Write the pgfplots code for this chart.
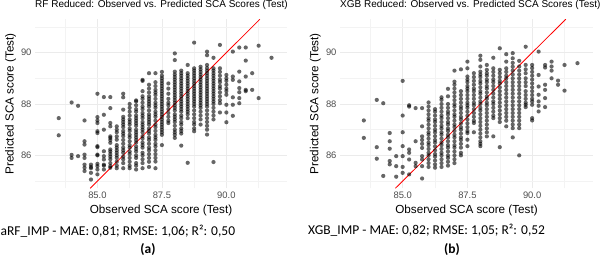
\documentclass[border=0pt]{standalone}
\usepackage{pgfplots}
\pgfplotsset{compat=1.18}
\usepackage{fontspec}
\setmainfont{Liberation Sans}
\newfontfamily\calibri{Carlito}
\definecolor{tickgray}{HTML}{4D4D4D}
\definecolor{gridmaj}{HTML}{EBEBEB}
\definecolor{gridmin}{HTML}{F3F3F3}
\pgfplotsset{
  panel/.style={
    anchor=south west, scale only axis, height=169pt,
    xmin=82.58, xmax=92.35, ymin=84.72, ymax=91.3,
    xtick={85,87.5,90}, xticklabels={85.0,87.5,90.0},
    minor xtick={83.75,86.25,88.75,91.25},
    ytick={86,88,90}, minor ytick={85,87,89,91},
    grid=both,
    major grid style={color=gridmaj, line width=0.8pt},
    minor grid style={color=gridmin, line width=0.5pt},
    axis line style={draw=none}, tick style={draw=none},
    /pgf/number format/assume math mode=true,
    ticklabel style={font=\fontsize{9.4}{10}\selectfont, text=tickgray},
    xlabel={Observed SCA score (Test)},
    ylabel={Predicted SCA score (Test)},
    label style={font=\fontsize{11.7}{13}\selectfont},
    xlabel style={at={(axis description cs:0.5,-0.130)}, anchor=center},
    ylabel style={at={(axis description cs:-0.097,0.5)}, anchor=center},
    title style={at={(axis description cs:0,1.0355)}, anchor=base west, inner sep=0pt, font=\fontsize{10}{12}\selectfont},
    clip=true,
  },
  pts/.style={only marks, mark=*, mark size=2.1pt, mark options={draw opacity=0, fill=black, fill opacity=0.6}},
  idline/.style={red, line width=0.8pt, no marks},
}
\begin{document}
\begin{tikzpicture}
\path[draw=none, fill=none] (0,0) rectangle (600pt,257pt);
\begin{axis}[panel, at={(35pt,72pt)}, width=252pt,
  title={RF Reduced: Observed vs. Predicted SCA Scores (Test)}]
\addplot[pts] coordinates {
(83.5,87.45)(83.5,86.78)
(84.0,88.06)(84.0,86.02)(84.0,85.9)
(84.25,87.93)(84.25,85.97)
(84.5,87.36)(84.5,86.55)(84.5,86.42)(84.5,86.03)(84.5,85.9)(84.5,85.64)(84.5,85.52)(84.5,85.39)
(84.75,85.64)(84.75,85.55)(84.75,85.5)(84.75,85.32)(84.75,85.06)
(85.0,88.4)(85.0,87.49)(85.0,87.36)(85.0,87.26)(85.0,86.94)(85.0,86.87)(85.0,86.36)(85.0,86.32)(85.0,86.03)(85.0,86.0)(85.0,85.67)(85.0,85.58)(85.0,85.45)(85.0,85.26)
(85.25,88.27)(85.25,87.58)(85.25,87.0)(85.25,86.16)(85.25,85.97)(85.25,85.84)(85.25,85.64)(85.25,85.6)(85.25,85.45)
(85.5,88.27)(85.5,87.84)(85.5,87.26)(85.5,87.13)(85.5,86.74)(85.5,86.68)(85.5,86.6)(85.5,86.49)(85.5,86.23)(85.5,86.15)(85.5,86.05)(85.5,85.95)(85.5,85.85)(85.5,85.7)(85.5,85.58)(85.5,85.52)
(85.75,87.13)(85.75,87.0)(85.75,86.9)(85.75,86.74)(85.75,86.61)(85.75,86.4)(85.75,86.3)(85.75,86.2)(85.75,86.1)(85.75,86.0)(85.75,85.9)(85.75,85.75)(85.75,85.6)(85.75,85.5)
(86.0,88.4)(86.0,88.26)(86.0,87.78)(86.0,87.5)(86.0,87.4)(86.0,87.3)(86.0,87.2)(86.0,87.1)(86.0,86.95)(86.0,86.85)(86.0,86.75)(86.0,86.6)(86.0,86.45)(86.0,86.3)(86.0,86.2)(86.0,86.1)(86.0,85.95)(86.0,85.85)(86.0,85.7)(86.0,85.5)
(86.25,88.0)(86.25,87.85)(86.25,87.7)(86.25,87.55)(86.25,87.4)(86.25,87.3)(86.25,87.2)(86.25,87.05)(86.25,86.95)(86.25,86.8)(86.25,86.7)(86.25,86.55)(86.25,86.4)(86.25,86.3)(86.25,86.15)(86.25,86.05)(86.25,85.9)(86.25,85.75)(86.25,85.6)(86.25,85.5)
(86.5,88.14)(86.5,88.1)(86.5,87.95)(86.5,87.8)(86.5,87.7)(86.5,87.55)(86.5,87.45)(86.5,87.35)(86.5,87.25)(86.5,87.15)(86.5,87.0)(86.5,86.9)(86.5,86.8)(86.5,86.7)(86.5,86.6)(86.5,86.5)(86.5,86.35)(86.5,86.25)(86.5,86.15)(86.5,86.0)(86.5,85.9)(86.5,85.7)(86.5,85.6)(86.5,85.45)
(86.75,88.94)(86.75,88.9)(86.75,88.5)(86.75,88.3)(86.75,88.2)(86.75,88.05)(86.75,87.9)(86.75,87.8)(86.75,87.65)(86.75,87.55)(86.75,87.45)(86.75,87.3)(86.75,87.2)(86.75,87.1)(86.75,87.0)(86.75,86.9)(86.75,86.75)(86.75,86.65)(86.75,86.5)(86.75,86.4)(86.75,86.3)(86.75,86.1)(86.75,86.0)(86.75,85.85)(86.75,85.7)(86.75,85.5)
(87.0,89.2)(87.0,88.75)(87.0,88.6)(87.0,88.45)(87.0,88.3)(87.0,88.2)(87.0,88.1)(87.0,88.0)(87.0,87.9)(87.0,87.75)(87.0,87.6)(87.0,87.5)(87.0,87.4)(87.0,87.3)(87.0,87.2)(87.0,87.05)(87.0,86.95)(87.0,86.85)(87.0,86.7)(87.0,86.6)(87.0,86.45)(87.0,86.3)(87.0,86.2)(87.0,86.05)(87.0,85.9)(87.0,85.75)(87.0,85.55)
(87.25,89.2)(87.25,88.85)(87.25,88.7)(87.25,88.55)(87.25,88.45)(87.25,88.35)(87.25,88.2)(87.25,88.05)(87.25,87.95)(87.25,87.85)(87.25,87.7)(87.25,87.6)(87.25,87.5)(87.25,87.35)(87.25,87.2)(87.25,87.1)(87.25,86.95)(87.25,86.8)(87.25,86.7)(87.25,86.6)(87.25,86.45)(87.25,86.35)(87.25,86.2)(87.25,86.05)(87.25,85.9)(87.25,85.76)(87.25,85.5)
(87.5,89.25)(87.5,89.1)(87.5,89.0)(87.5,88.9)(87.5,88.8)(87.5,88.7)(87.5,88.6)(87.5,88.5)(87.5,88.4)(87.5,88.3)(87.5,88.2)(87.5,88.1)(87.5,88.0)(87.5,87.9)(87.5,87.8)(87.5,87.7)(87.5,87.6)(87.5,87.5)(87.5,87.4)(87.5,87.3)(87.5,87.2)(87.5,87.1)(87.5,87.0)(87.5,86.9)(87.5,86.8)(87.5,86.4)
(87.75,88.8)(87.75,88.6)(87.75,88.4)(87.75,88.2)(87.75,88.05)(87.75,87.95)(87.75,87.8)(87.75,87.65)(87.75,87.5)(87.75,87.35)(87.75,87.26)
(88.0,89.97)(88.0,89.71)(88.0,89.26)(88.0,89.15)(88.0,89.05)(88.0,88.95)(88.0,88.85)(88.0,88.75)(88.0,88.65)(88.0,88.55)(88.0,88.45)(88.0,88.35)(88.0,88.25)(88.0,88.15)(88.0,88.05)(88.0,87.95)(88.0,87.85)(88.0,87.75)(88.0,87.6)(88.0,87.5)(88.0,87.4)(88.0,87.3)(88.0,87.15)(88.0,87.0)(88.0,86.9)(88.0,86.8)(88.0,86.68)
(88.25,89.3)(88.25,89.2)(88.25,89.1)(88.25,89.0)(88.25,88.9)(88.25,88.8)(88.25,88.7)(88.25,88.6)(88.25,88.5)(88.25,88.4)(88.25,88.3)(88.25,88.2)(88.25,88.1)(88.25,88.0)(88.25,87.9)(88.25,87.8)(88.25,87.7)(88.25,87.55)(88.25,87.45)(88.25,87.3)(88.25,87.2)(88.25,87.05)(88.25,86.95)(88.25,86.85)(88.25,86.38)
(88.5,89.52)(88.5,89.2)(88.5,89.1)(88.5,89.0)(88.5,88.9)(88.5,88.8)(88.5,88.7)(88.5,88.6)(88.5,88.5)(88.5,88.4)(88.5,88.3)(88.5,88.2)(88.5,88.1)(88.5,88.0)(88.5,87.9)(88.5,87.8)(88.5,87.7)(88.5,87.6)(88.5,87.45)(88.5,85.71)
(88.75,90.39)(88.75,89.39)(88.75,89.3)(88.75,89.2)(88.75,89.1)(88.75,89.0)(88.75,88.9)(88.75,88.8)(88.75,88.7)(88.75,88.6)(88.75,88.5)(88.75,88.4)(88.75,88.3)(88.75,88.2)(88.75,88.1)(88.75,88.0)(88.75,87.9)(88.75,87.75)(88.75,87.6)(88.75,87.45)(88.75,87.3)(88.75,87.2)(88.75,87.05)(88.75,86.94)
(89.0,89.45)(89.0,89.35)(89.0,89.25)(89.0,89.15)(89.0,89.05)(89.0,88.95)(89.0,88.85)(89.0,88.75)(89.0,88.65)(89.0,88.55)(89.0,88.45)(89.0,88.35)(89.0,88.25)(89.0,88.15)(89.0,88.05)(89.0,87.95)(89.0,87.85)(89.0,87.7)(89.0,87.55)(89.0,87.4)(89.0,87.2)
(89.25,90.04)(89.25,89.9)(89.25,89.52)(89.25,89.4)(89.25,89.3)(89.25,89.2)(89.25,89.1)(89.25,89.0)(89.25,88.9)(89.25,88.8)(89.25,88.7)(89.25,88.6)(89.25,88.5)(89.25,88.4)(89.25,88.3)(89.25,88.2)(89.25,88.1)(89.25,88.0)(89.25,87.9)(89.25,87.75)(89.25,87.6)(89.25,87.45)(89.25,87.3)(89.25,87.15)(89.25,87.0)(89.25,86.81)
(89.5,89.8)(89.5,89.39)(89.5,89.3)(89.5,89.2)(89.5,89.1)(89.5,89.0)(89.5,88.9)(89.5,88.8)(89.5,88.7)(89.5,88.6)(89.5,88.5)(89.5,88.4)(89.5,88.3)(89.5,88.2)(89.5,88.1)(89.5,88.0)(89.5,87.85)(89.5,87.7)(89.5,87.55)(89.5,87.4)(89.5,85.74)
(89.75,90.3)(89.75,89.39)(89.75,89.25)(89.75,89.1)(89.75,88.95)(89.75,88.85)(89.75,88.7)(89.75,88.6)(89.75,88.45)(89.75,88.3)(89.75,88.15)(89.75,88.03)(89.75,87.67)
(90.0,89.13)(90.0,89.0)(90.0,88.9)(90.0,88.75)(90.0,88.6)(90.0,88.5)(90.0,88.36)(90.0,87.97)(90.0,87.67)(90.0,87.29)
(90.25,90.04)(90.25,89.07)(90.25,88.94)(90.25,88.26)(90.25,87.97)(90.25,87.54)
(90.5,90.2)(90.5,89.26)(90.5,88.88)(90.5,88.62)(90.5,88.46)(90.5,88.23)(90.5,88.03)
(90.75,90.2)(90.75,89.69)(90.75,89.07)(90.75,88.55)(90.75,88.5)
(91.0,89.2)(91.0,88.55)
(91.25,90.27)(91.25,88.23)
(91.75,89.8)
};
\addplot[idline] coordinates {(84.72,84.72) (91.3,91.3)};
\end{axis}
\begin{axis}[panel, at={(340pt,72pt)}, width=253pt,
  title={XGB Reduced: Observed vs. Predicted SCA Scores (Test)},
  title style={overlay}]
\addplot[pts] coordinates {
(83.5,87.36)(83.5,86.68)
(84.0,88.16)(84.0,86.32)(84.0,85.87)
(84.25,88.03)(84.25,85.2)
(84.5,86.87)(84.5,86.55)(84.5,86.26)(84.5,85.78)(84.5,85.65)
(84.75,85.97)(84.75,85.58)(84.75,85.17)
(85.0,88.9)(85.0,87.55)(85.0,86.9)(85.0,86.36)(85.0,85.97)(85.0,85.55)(85.0,85.32)
(85.25,87.95)(85.25,87.9)(85.25,86.23)(85.25,86.1)(85.25,85.84)(85.25,85.26)
(85.5,87.84)(85.5,86.55)(85.5,85.71)(85.5,85.58)
(85.75,87.84)(85.75,87.13)(85.75,86.74)(85.75,86.6)(85.75,86.45)(85.75,86.29)(85.75,85.97)(85.75,85.84)(85.75,85.58)(85.75,85.1)
(86.0,88.06)(86.0,87.9)(86.0,87.75)(86.0,87.6)(86.0,87.45)(86.0,87.35)(86.0,87.2)(86.0,87.05)(86.0,86.9)(86.0,86.8)(86.0,86.65)(86.0,86.5)(86.0,86.4)(86.0,86.25)(86.0,86.1)(86.0,86.0)(86.0,85.85)(86.0,85.7)(86.0,85.55)
(86.25,87.8)(86.25,87.7)(86.25,87.55)(86.25,87.4)(86.25,87.3)(86.25,87.15)(86.25,87.0)(86.25,86.9)(86.25,86.75)(86.25,86.6)(86.25,86.5)(86.25,86.35)(86.25,86.2)(86.25,86.05)(86.25,85.95)(86.25,85.8)(86.25,85.65)(86.25,85.52)
(86.5,88.26)(86.5,88.16)(86.5,88.0)(86.5,87.85)(86.5,87.7)(86.5,87.55)(86.5,87.45)(86.5,87.3)(86.5,87.15)(86.5,87.05)(86.5,86.9)(86.5,86.8)(86.5,86.65)(86.5,86.5)(86.5,86.4)(86.5,86.25)(86.5,86.1)(86.5,86.0)(86.5,85.85)(86.5,85.7)(86.5,85.55)
(86.75,88.59)(86.75,88.3)(86.75,88.0)(86.75,87.85)(86.75,87.7)(86.75,87.6)(86.75,87.45)(86.75,87.3)(86.75,87.2)(86.75,87.05)(86.75,86.95)(86.75,86.8)(86.75,86.7)(86.75,86.55)(86.75,86.4)(86.75,86.3)(86.75,86.15)(86.75,86.0)(86.75,85.9)(86.75,85.75)(86.75,85.6)
(87.0,89.3)(87.0,88.87)(87.0,88.75)(87.0,88.6)(87.0,88.45)(87.0,88.3)(87.0,88.15)(87.0,88.0)(87.0,87.9)(87.0,87.75)(87.0,87.6)(87.0,87.5)(87.0,87.35)(87.0,87.2)(87.0,87.1)(87.0,86.95)(87.0,86.8)(87.0,86.7)(87.0,86.55)(87.0,86.4)(87.0,86.3)(87.0,86.15)(87.0,86.0)(87.0,85.85)(87.0,85.7)
(87.25,89.35)(87.25,88.5)(87.25,88.35)(87.25,88.2)(87.25,88.05)(87.25,87.9)(87.25,87.8)(87.25,87.65)(87.25,87.5)(87.25,87.4)(87.25,87.25)(87.25,87.1)(87.25,87.0)(87.25,86.85)(87.25,86.7)(87.25,86.6)(87.25,86.45)(87.25,86.3)(87.25,86.1)(87.25,86.0)
(87.5,89.65)(87.5,89.39)(87.5,89.07)(87.5,88.95)(87.5,88.85)(87.5,88.7)(87.5,88.6)(87.5,88.5)(87.5,88.35)(87.5,88.2)(87.5,88.05)(87.5,87.95)(87.5,87.85)(87.5,87.7)(87.5,87.55)(87.5,87.4)(87.5,87.25)(87.5,87.1)(87.5,86.95)(87.5,86.87)(87.5,86.61)(87.5,86.36)
(87.75,89.2)(87.75,89.05)(87.75,88.9)(87.75,88.75)(87.75,88.6)(87.75,88.5)(87.75,88.35)(87.75,88.2)(87.75,88.05)(87.75,87.95)(87.75,87.8)(87.75,87.65)(87.75,87.5)(87.75,87.35)(87.75,87.26)(87.75,86.9)
(88.0,89.88)(88.0,89.72)(88.0,89.46)(88.0,89.26)(88.0,89.15)(88.0,89.05)(88.0,88.9)(88.0,88.8)(88.0,88.65)(88.0,88.5)(88.0,88.4)(88.0,88.25)(88.0,88.1)(88.0,88.0)(88.0,87.85)(88.0,87.75)(88.0,87.6)(88.0,87.45)(88.0,87.3)(88.0,87.15)(88.0,87.0)(88.0,86.85)(88.0,86.7)(88.0,86.55)(88.0,86.45)(88.0,86.36)
(88.25,89.52)(88.25,89.33)(88.25,89.2)(88.25,89.1)(88.25,88.95)(88.25,88.85)(88.25,88.7)(88.25,88.6)(88.25,88.45)(88.25,88.3)(88.25,88.2)(88.25,88.05)(88.25,87.95)(88.25,87.8)(88.25,87.65)(88.25,87.5)(88.25,87.35)(88.25,87.2)(88.25,87.05)(88.25,86.9)(88.25,86.74)
(88.5,89.8)(88.5,89.39)(88.5,89.25)(88.5,89.1)(88.5,88.95)(88.5,88.85)(88.5,88.7)(88.5,88.55)(88.5,88.4)(88.5,88.25)(88.5,88.1)(88.5,88.0)(88.5,87.85)(88.5,87.7)(88.5,87.55)(88.5,87.45)(88.5,86.74)
(88.75,90.17)(88.75,89.33)(88.75,89.2)(88.75,89.05)(88.75,88.9)(88.75,88.8)(88.75,88.65)(88.75,88.5)(88.75,88.35)(88.75,88.2)(88.75,88.05)(88.75,87.9)(88.75,87.75)(88.75,87.6)(88.75,87.45)(88.75,87.3)(88.75,86.32)
(89.0,89.94)(89.0,89.65)(89.0,89.39)(89.0,89.25)(89.0,89.1)(89.0,89.0)(89.0,88.85)(89.0,88.7)(89.0,88.55)(89.0,88.4)(89.0,88.25)(89.0,88.1)(89.0,87.95)(89.0,87.8)(89.0,87.65)(89.0,87.5)(89.0,87.35)(89.0,87.13)
(89.25,89.98)(89.25,89.78)(89.25,89.6)(89.25,89.45)(89.25,89.3)(89.25,89.15)(89.25,89.0)(89.25,88.85)(89.25,88.7)(89.25,88.55)(89.25,88.4)(89.25,88.25)(89.25,88.1)(89.25,87.95)(89.25,87.8)(89.25,87.65)(89.25,87.5)(89.25,87.35)(89.25,87.2)(89.25,87.06)(89.25,86.7)
(89.5,89.68)(89.5,89.46)(89.5,89.3)(89.5,89.15)(89.5,89.0)(89.5,88.85)(89.5,88.7)(89.5,88.55)(89.5,88.4)(89.5,88.25)(89.5,88.1)(89.5,87.95)(89.5,87.8)(89.5,87.65)(89.5,87.5)(89.5,87.35)(89.5,87.2)(89.5,87.06)(89.5,86.0)
(89.75,90.23)(89.75,89.52)(89.75,89.35)(89.75,89.2)(89.75,89.0)(89.75,88.85)(89.75,88.7)(89.75,88.5)(89.75,88.35)(89.75,88.2)(89.75,88.05)(89.75,87.97)(89.75,87.88)
(90.0,89.52)(90.0,89.4)(90.0,89.25)(90.0,89.1)(90.0,88.95)(90.0,88.8)(90.0,88.65)(90.0,88.5)(90.0,88.35)(90.0,88.2)(90.0,88.1)(90.0,87.97)(90.0,87.45)(90.0,87.36)
(90.25,90.04)(90.25,89.13)(90.25,88.68)(90.25,88.36)(90.25,88.1)(90.25,87.93)(90.25,87.71)
(90.5,89.52)(90.5,89.42)(90.5,88.75)(90.5,88.55)(90.5,88.23)(90.5,87.88)
(90.75,89.65)(90.75,89.46)(90.75,89.3)(90.75,89.0)
(91.0,88.91)(91.0,88.75)
(91.25,89.52)(91.25,88.52)
(91.75,89.59)
};
\addplot[idline] coordinates {(84.72,84.72) (91.3,91.3)};
\end{axis}
\node[anchor=west, inner sep=0pt, font=\calibri\fontsize{13.5}{15}\selectfont] at (0.5pt,29pt) {aRF\_IMP - MAE: 0,81; RMSE: 1,06; R²: 0,50};
\node[anchor=center, inner sep=0pt, font=\calibri\bfseries\fontsize{13.5}{15}\selectfont] at (148pt,11pt) {(a)};
\node[anchor=west, inner sep=0pt, font=\calibri\fontsize{13.5}{15}\selectfont] at (308pt,30pt) {XGB\_IMP - MAE: 0,82; RMSE: 1,05; R²: 0,52};
\node[anchor=center, inner sep=0pt, font=\calibri\bfseries\fontsize{13.5}{15}\selectfont] at (452pt,11pt) {(b)};
\end{tikzpicture}
\end{document}
